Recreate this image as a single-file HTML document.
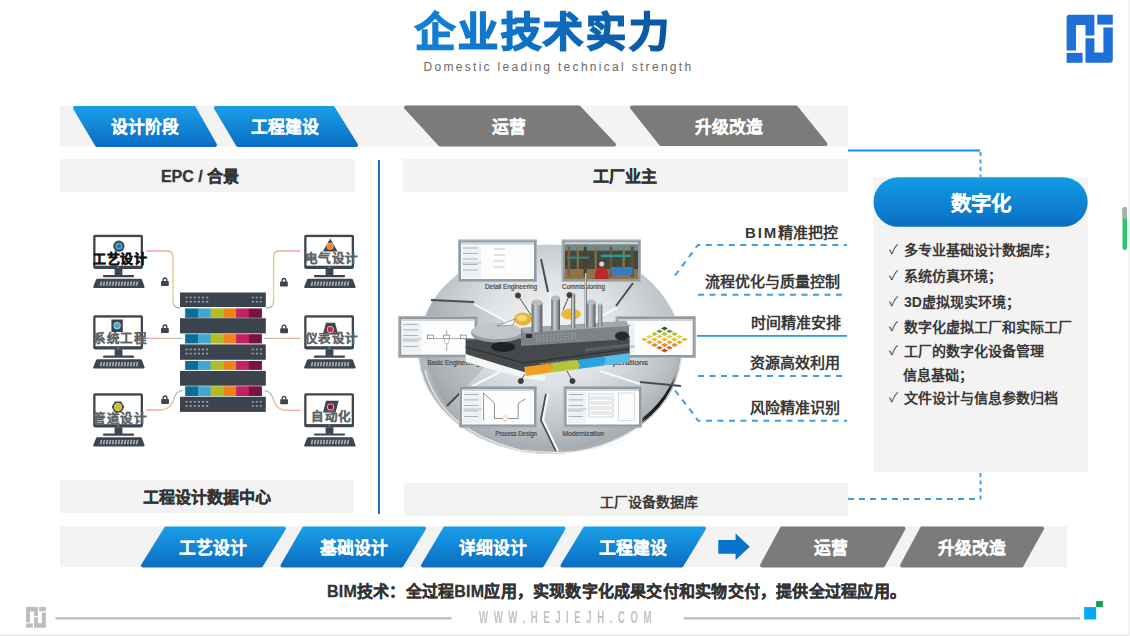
<!DOCTYPE html>
<html lang="zh-CN"><head><meta charset="utf-8">
<style>
html,body{margin:0;padding:0;}
body{text-spacing-trim:space-all;width:1130px;height:636px;overflow:hidden;background:#fff;position:relative;font-family:"Liberation Sans",sans-serif;}
.a{position:absolute;white-space:nowrap;}
.t{position:absolute;white-space:nowrap;text-align:center;}
svg{position:absolute;left:0;top:0;}
.title{left:342px;top:6px;width:400px;font-size:40px;line-height:52px;font-weight:900;letter-spacing:2.8px;text-indent:2.8px;
 background:linear-gradient(90deg,#178ce0 0%,#0f72c6 45%,#0b5aa8 75%,#0a4687 100%);-webkit-background-clip:text;background-clip:text;color:transparent;-webkit-text-stroke:1.8px transparent;}
.sub{left:423.5px;top:59px;font-size:12px;line-height:16px;color:#6a6a6a;letter-spacing:2.3px;text-align:left;}
.stg{font-size:16.8px;line-height:20px;font-weight:bold;color:#fff;-webkit-text-stroke:0.15px #fff;}
.hdr{font-size:16px;line-height:20px;font-weight:bold;color:#333;-webkit-text-stroke:0.3px #333;}
.lbl{font-size:15px;line-height:18px;font-weight:bold;color:#383838;text-align:right;}
.chk{font-size:14px;line-height:18px;font-weight:bold;color:#383838;}
.ck{font-weight:normal;font-size:13px;-webkit-text-stroke:0;color:#444;}
.pc{font-size:12.5px;line-height:14px;font-weight:bold;color:#626262;letter-spacing:0.5px;-webkit-text-stroke:0.15px currentColor;}
</style></head><body>
<svg width="1130" height="636" viewBox="0 0 1130 636">
<defs>
 <linearGradient id="gb" x1="0" y1="0" x2="0" y2="1">
  <stop offset="0" stop-color="#1a9de6"/><stop offset="1" stop-color="#0a6fc4"/>
 </linearGradient>
 <linearGradient id="gp" x1="0" y1="0" x2="0" y2="1">
  <stop offset="0" stop-color="#129ce6"/><stop offset="1" stop-color="#0a6ec3"/>
 </linearGradient>
<linearGradient id="cbl1" gradientUnits="userSpaceOnUse" x1="146" y1="251" x2="182" y2="308"><stop offset="0" stop-color="#f0a0a8"/><stop offset="0.45" stop-color="#f3c27a"/><stop offset="0.8" stop-color="#d9d58a"/><stop offset="1" stop-color="#7ab8e0"/></linearGradient>
<linearGradient id="cbl2" gradientUnits="userSpaceOnUse" x1="146" y1="0" x2="182" y2="0"><stop offset="0" stop-color="#f09aa8"/><stop offset="0.6" stop-color="#f3c08a"/><stop offset="1" stop-color="#8ec3e6"/></linearGradient>
<linearGradient id="cbl3" gradientUnits="userSpaceOnUse" x1="146" y1="410" x2="182" y2="390"><stop offset="0" stop-color="#f09aa8"/><stop offset="0.5" stop-color="#f1c470"/><stop offset="1" stop-color="#8ec3e6"/></linearGradient>
<linearGradient id="cbr1" gradientUnits="userSpaceOnUse" x1="300" y1="251" x2="265" y2="308"><stop offset="0" stop-color="#f0a0a8"/><stop offset="0.45" stop-color="#f3c27a"/><stop offset="0.8" stop-color="#d9d58a"/><stop offset="1" stop-color="#7ab8e0"/></linearGradient>
<linearGradient id="cbr2" gradientUnits="userSpaceOnUse" x1="300" y1="0" x2="264" y2="0"><stop offset="0" stop-color="#f09aa8"/><stop offset="0.6" stop-color="#f3c08a"/><stop offset="1" stop-color="#8ec3e6"/></linearGradient>
<linearGradient id="cbr3" gradientUnits="userSpaceOnUse" x1="300" y1="410" x2="264" y2="390"><stop offset="0" stop-color="#f09aa8"/><stop offset="0.5" stop-color="#f1c470"/><stop offset="1" stop-color="#8ec3e6"/></linearGradient>
<radialGradient id="rimdark" gradientUnits="userSpaceOnUse" cx="662" cy="405" r="38"><stop offset="0" stop-color="#111"/><stop offset="0.55" stop-color="#2a2c2e"/><stop offset="1" stop-color="#a9aeb2" stop-opacity="0"/></radialGradient>
<clipPath id="rimclip"><ellipse cx="551" cy="350.5" rx="132" ry="103.5"/></clipPath>
<radialGradient id="dk" cx="550" cy="330" r="150" gradientUnits="userSpaceOnUse" gradientTransform="translate(550,330) scale(1,0.8) translate(-550,-330)">
<stop offset="0" stop-color="#f4f5f6"/><stop offset="0.45" stop-color="#dfe2e4"/><stop offset="0.8" stop-color="#bfc4c8"/><stop offset="1" stop-color="#a4aaaf"/></radialGradient>
<linearGradient id="rim" gradientUnits="userSpaceOnUse" x1="500" y1="260" x2="640" y2="470"><stop offset="0" stop-color="#d8dcdf"/><stop offset="0.55" stop-color="#b0b5b9"/><stop offset="0.78" stop-color="#2a2c2e"/><stop offset="1" stop-color="#707579"/></linearGradient>
<linearGradient id="cyl" x1="0" y1="0" x2="1" y2="0"><stop offset="0" stop-color="#5d6266"/><stop offset="0.35" stop-color="#c9cdd1"/><stop offset="0.6" stop-color="#a6abb0"/><stop offset="1" stop-color="#55595d"/></linearGradient>
<linearGradient id="plat" x1="0" y1="0" x2="0" y2="1"><stop offset="0" stop-color="#8d9195"/><stop offset="1" stop-color="#6d7175"/></linearGradient>
<linearGradient id="scene" x1="0" y1="0" x2="0" y2="1"><stop offset="0" stop-color="#5a4a3a"/><stop offset="0.5" stop-color="#2c5a5e"/><stop offset="1" stop-color="#8a7040"/></linearGradient>
</defs>
<!-- top band -->
<rect x="60" y="105.5" width="788" height="41" fill="#f3f3f3"/>
<g stroke-linejoin="round" stroke-width="4">
 <path d="M75,108 L194,108 L215,145 L97,145 Z" fill="url(#gb)" stroke="url(#gb)"/>
 <path d="M216,108 L333,108 L356,145 L238,145 Z" fill="url(#gb)" stroke="url(#gb)"/>
 <path d="M406,107.5 L579,107.5 L614,144.5 L440,144.5 Z" fill="#7b7b7b" stroke="#7b7b7b"/>
 <path d="M632,107.5 L796,107.5 L825.5,144 L661,144 Z" fill="#7b7b7b" stroke="#7b7b7b"/>
</g>
<!-- header boxes -->
<rect x="60" y="159" width="295" height="33" fill="#f3f3f3"/>
<rect x="403" y="159" width="445" height="33" fill="#f3f3f3"/>
<rect x="60" y="480" width="294" height="33" fill="#f3f3f3"/>
<rect x="404" y="483" width="444" height="33" fill="#f3f3f3"/>
<!-- vertical line -->
<rect x="378" y="160" width="2" height="354" fill="#1f76bd"/>
<!-- connectors to panel -->
<rect x="848" y="149.5" width="132" height="2" fill="#1a8ad8"/>
<line x1="980.5" y1="152" x2="980.5" y2="177" stroke="#4aa2e2" stroke-width="2" stroke-dasharray="4 3.5"/>
<line x1="980.5" y1="473" x2="980.5" y2="499" stroke="#4aa2e2" stroke-width="2" stroke-dasharray="4 3.5"/>
<line x1="848" y1="499" x2="981" y2="499" stroke="#3a9de0" stroke-width="2" stroke-dasharray="6 5"/>
<!-- panel -->
<rect x="873.5" y="177.5" width="214.2" height="294.7" fill="#f3f3f3"/>
<rect x="873.5" y="177.3" width="214.2" height="49.5" rx="24.75" fill="url(#gp)"/>
<!-- middle lines -->
<g stroke="#3aa0e0" stroke-width="2" fill="none" stroke-dasharray="6 5.5">
 <path d="M675,275.5 L698,245 L847,245"/>
 <path d="M698,294.8 L847,294.8"/>
 <path d="M698,376 L847,376"/>
 <path d="M675,390.5 L695,416 L698,420.8 L847,420.8"/>
</g>
<rect x="697" y="335" width="150" height="1.8" fill="#22a0e2"/>
<!-- bottom band -->
<rect x="60" y="526" width="1007" height="41" fill="#f3f3f3"/>
<g stroke-linejoin="round" stroke-width="4">
 <path d="M166,528.5 L284,528.5 L261,565.5 L143,565.5 Z" fill="url(#gb)" stroke="url(#gb)"/>
 <path d="M304,528.5 L424,528.5 L401.5,565.5 L282.5,565.5 Z" fill="url(#gb)" stroke="url(#gb)"/>
 <path d="M445,528.5 L563.5,528.5 L542,565.5 L423,565.5 Z" fill="url(#gb)" stroke="url(#gb)"/>
 <path d="M585,528.5 L704,528.5 L681.5,565.5 L562.5,565.5 Z" fill="url(#gb)" stroke="url(#gb)"/>
 <path d="M782,528.5 L903.5,528.5 L883,565.5 L762,565.5 Z" fill="#7b7b7b" stroke="#7b7b7b"/>
 <path d="M922,528.5 L1042,528.5 L1021.5,565.5 L902,565.5 Z" fill="#7b7b7b" stroke="#7b7b7b"/>
</g>
<path d="M718.3,540 L735.6,540 L735.6,533.4 L749.8,546.7 L735.6,560 L735.6,553.7 L718.3,553.7 Z" fill="#0a72c8"/>
<g transform="translate(93.2,234.8)">
<rect x="0" y="0" width="49.8" height="34.1" rx="1.8" fill="#3d4650"/>
<rect x="2.3" y="2.3" width="45.2" height="28.6" fill="#fff"/>
<circle cx="24.9" cy="32.6" r="0.6" fill="#cfd3d6"/>
<rect x="21.4" y="34" width="7.8" height="6.6" fill="#3d4650"/>
<rect x="9.8" y="40.2" width="31" height="2.2" rx="0.8" fill="#3d4650"/>
<path d="M4.3,44 L47.3,44 Q48.4,44 48.8,45 L51.4,52 Q51.6,53.3 50.3,53.3 L1,53.3 Q-0.3,53.3 0,52 L2.8,45 Q3.2,44 4.3,44 Z" fill="#3d4650"/>
<path d="M7.4,46.6 L9.1,46.6 L8.2,51 L6.5,51 Z" fill="#aab1b7"/>
<path d="M10.4,46.6 L12.1,46.6 L11.2,51 L9.5,51 Z" fill="#aab1b7"/>
<path d="M13.4,46.6 L15.1,46.6 L14.2,51 L12.5,51 Z" fill="#aab1b7"/>
<path d="M16.4,46.6 L18.1,46.6 L17.2,51 L15.5,51 Z" fill="#aab1b7"/>
<path d="M19.4,46.6 L21.1,46.6 L20.2,51 L18.5,51 Z" fill="#aab1b7"/>
<path d="M22.4,46.6 L24.1,46.6 L23.2,51 L21.5,51 Z" fill="#aab1b7"/>
<path d="M25.4,46.6 L27.1,46.6 L26.2,51 L24.5,51 Z" fill="#aab1b7"/>
<path d="M28.4,46.6 L30.1,46.6 L29.2,51 L27.5,51 Z" fill="#aab1b7"/>
<path d="M31.4,46.6 L33.1,46.6 L32.2,51 L30.5,51 Z" fill="#aab1b7"/>
<path d="M34.4,46.6 L36.1,46.6 L35.2,51 L33.5,51 Z" fill="#aab1b7"/>
<path d="M37.4,46.6 L39.1,46.6 L38.2,51 L36.5,51 Z" fill="#aab1b7"/>
<path d="M40.4,46.6 L42.1,46.6 L41.2,51 L39.5,51 Z" fill="#aab1b7"/>
<path d="M43.4,46.6 L45.1,46.6 L44.2,51 L42.5,51 Z" fill="#aab1b7"/>
</g>
<g transform="translate(93.2,315.3)">
<rect x="0" y="0" width="49.8" height="34.1" rx="1.8" fill="#3d4650"/>
<rect x="2.3" y="2.3" width="45.2" height="28.6" fill="#fff"/>
<circle cx="24.9" cy="32.6" r="0.6" fill="#cfd3d6"/>
<rect x="21.4" y="34" width="7.8" height="6.6" fill="#3d4650"/>
<rect x="9.8" y="40.2" width="31" height="2.2" rx="0.8" fill="#3d4650"/>
<path d="M4.3,44 L47.3,44 Q48.4,44 48.8,45 L51.4,52 Q51.6,53.3 50.3,53.3 L1,53.3 Q-0.3,53.3 0,52 L2.8,45 Q3.2,44 4.3,44 Z" fill="#3d4650"/>
<path d="M7.4,46.6 L9.1,46.6 L8.2,51 L6.5,51 Z" fill="#aab1b7"/>
<path d="M10.4,46.6 L12.1,46.6 L11.2,51 L9.5,51 Z" fill="#aab1b7"/>
<path d="M13.4,46.6 L15.1,46.6 L14.2,51 L12.5,51 Z" fill="#aab1b7"/>
<path d="M16.4,46.6 L18.1,46.6 L17.2,51 L15.5,51 Z" fill="#aab1b7"/>
<path d="M19.4,46.6 L21.1,46.6 L20.2,51 L18.5,51 Z" fill="#aab1b7"/>
<path d="M22.4,46.6 L24.1,46.6 L23.2,51 L21.5,51 Z" fill="#aab1b7"/>
<path d="M25.4,46.6 L27.1,46.6 L26.2,51 L24.5,51 Z" fill="#aab1b7"/>
<path d="M28.4,46.6 L30.1,46.6 L29.2,51 L27.5,51 Z" fill="#aab1b7"/>
<path d="M31.4,46.6 L33.1,46.6 L32.2,51 L30.5,51 Z" fill="#aab1b7"/>
<path d="M34.4,46.6 L36.1,46.6 L35.2,51 L33.5,51 Z" fill="#aab1b7"/>
<path d="M37.4,46.6 L39.1,46.6 L38.2,51 L36.5,51 Z" fill="#aab1b7"/>
<path d="M40.4,46.6 L42.1,46.6 L41.2,51 L39.5,51 Z" fill="#aab1b7"/>
<path d="M43.4,46.6 L45.1,46.6 L44.2,51 L42.5,51 Z" fill="#aab1b7"/>
</g>
<g transform="translate(93.2,393.3)">
<rect x="0" y="0" width="49.8" height="34.1" rx="1.8" fill="#3d4650"/>
<rect x="2.3" y="2.3" width="45.2" height="28.6" fill="#fff"/>
<circle cx="24.9" cy="32.6" r="0.6" fill="#cfd3d6"/>
<rect x="21.4" y="34" width="7.8" height="6.6" fill="#3d4650"/>
<rect x="9.8" y="40.2" width="31" height="2.2" rx="0.8" fill="#3d4650"/>
<path d="M4.3,44 L47.3,44 Q48.4,44 48.8,45 L51.4,52 Q51.6,53.3 50.3,53.3 L1,53.3 Q-0.3,53.3 0,52 L2.8,45 Q3.2,44 4.3,44 Z" fill="#3d4650"/>
<path d="M7.4,46.6 L9.1,46.6 L8.2,51 L6.5,51 Z" fill="#aab1b7"/>
<path d="M10.4,46.6 L12.1,46.6 L11.2,51 L9.5,51 Z" fill="#aab1b7"/>
<path d="M13.4,46.6 L15.1,46.6 L14.2,51 L12.5,51 Z" fill="#aab1b7"/>
<path d="M16.4,46.6 L18.1,46.6 L17.2,51 L15.5,51 Z" fill="#aab1b7"/>
<path d="M19.4,46.6 L21.1,46.6 L20.2,51 L18.5,51 Z" fill="#aab1b7"/>
<path d="M22.4,46.6 L24.1,46.6 L23.2,51 L21.5,51 Z" fill="#aab1b7"/>
<path d="M25.4,46.6 L27.1,46.6 L26.2,51 L24.5,51 Z" fill="#aab1b7"/>
<path d="M28.4,46.6 L30.1,46.6 L29.2,51 L27.5,51 Z" fill="#aab1b7"/>
<path d="M31.4,46.6 L33.1,46.6 L32.2,51 L30.5,51 Z" fill="#aab1b7"/>
<path d="M34.4,46.6 L36.1,46.6 L35.2,51 L33.5,51 Z" fill="#aab1b7"/>
<path d="M37.4,46.6 L39.1,46.6 L38.2,51 L36.5,51 Z" fill="#aab1b7"/>
<path d="M40.4,46.6 L42.1,46.6 L41.2,51 L39.5,51 Z" fill="#aab1b7"/>
<path d="M43.4,46.6 L45.1,46.6 L44.2,51 L42.5,51 Z" fill="#aab1b7"/>
</g>
<g transform="translate(304.2,234.8)">
<rect x="0" y="0" width="49.8" height="34.1" rx="1.8" fill="#3d4650"/>
<rect x="2.3" y="2.3" width="45.2" height="28.6" fill="#fff"/>
<circle cx="24.9" cy="32.6" r="0.6" fill="#cfd3d6"/>
<rect x="21.4" y="34" width="7.8" height="6.6" fill="#3d4650"/>
<rect x="9.8" y="40.2" width="31" height="2.2" rx="0.8" fill="#3d4650"/>
<path d="M4.3,44 L47.3,44 Q48.4,44 48.8,45 L51.4,52 Q51.6,53.3 50.3,53.3 L1,53.3 Q-0.3,53.3 0,52 L2.8,45 Q3.2,44 4.3,44 Z" fill="#3d4650"/>
<path d="M7.4,46.6 L9.1,46.6 L8.2,51 L6.5,51 Z" fill="#aab1b7"/>
<path d="M10.4,46.6 L12.1,46.6 L11.2,51 L9.5,51 Z" fill="#aab1b7"/>
<path d="M13.4,46.6 L15.1,46.6 L14.2,51 L12.5,51 Z" fill="#aab1b7"/>
<path d="M16.4,46.6 L18.1,46.6 L17.2,51 L15.5,51 Z" fill="#aab1b7"/>
<path d="M19.4,46.6 L21.1,46.6 L20.2,51 L18.5,51 Z" fill="#aab1b7"/>
<path d="M22.4,46.6 L24.1,46.6 L23.2,51 L21.5,51 Z" fill="#aab1b7"/>
<path d="M25.4,46.6 L27.1,46.6 L26.2,51 L24.5,51 Z" fill="#aab1b7"/>
<path d="M28.4,46.6 L30.1,46.6 L29.2,51 L27.5,51 Z" fill="#aab1b7"/>
<path d="M31.4,46.6 L33.1,46.6 L32.2,51 L30.5,51 Z" fill="#aab1b7"/>
<path d="M34.4,46.6 L36.1,46.6 L35.2,51 L33.5,51 Z" fill="#aab1b7"/>
<path d="M37.4,46.6 L39.1,46.6 L38.2,51 L36.5,51 Z" fill="#aab1b7"/>
<path d="M40.4,46.6 L42.1,46.6 L41.2,51 L39.5,51 Z" fill="#aab1b7"/>
<path d="M43.4,46.6 L45.1,46.6 L44.2,51 L42.5,51 Z" fill="#aab1b7"/>
</g>
<g transform="translate(304.2,315.3)">
<rect x="0" y="0" width="49.8" height="34.1" rx="1.8" fill="#3d4650"/>
<rect x="2.3" y="2.3" width="45.2" height="28.6" fill="#fff"/>
<circle cx="24.9" cy="32.6" r="0.6" fill="#cfd3d6"/>
<rect x="21.4" y="34" width="7.8" height="6.6" fill="#3d4650"/>
<rect x="9.8" y="40.2" width="31" height="2.2" rx="0.8" fill="#3d4650"/>
<path d="M4.3,44 L47.3,44 Q48.4,44 48.8,45 L51.4,52 Q51.6,53.3 50.3,53.3 L1,53.3 Q-0.3,53.3 0,52 L2.8,45 Q3.2,44 4.3,44 Z" fill="#3d4650"/>
<path d="M7.4,46.6 L9.1,46.6 L8.2,51 L6.5,51 Z" fill="#aab1b7"/>
<path d="M10.4,46.6 L12.1,46.6 L11.2,51 L9.5,51 Z" fill="#aab1b7"/>
<path d="M13.4,46.6 L15.1,46.6 L14.2,51 L12.5,51 Z" fill="#aab1b7"/>
<path d="M16.4,46.6 L18.1,46.6 L17.2,51 L15.5,51 Z" fill="#aab1b7"/>
<path d="M19.4,46.6 L21.1,46.6 L20.2,51 L18.5,51 Z" fill="#aab1b7"/>
<path d="M22.4,46.6 L24.1,46.6 L23.2,51 L21.5,51 Z" fill="#aab1b7"/>
<path d="M25.4,46.6 L27.1,46.6 L26.2,51 L24.5,51 Z" fill="#aab1b7"/>
<path d="M28.4,46.6 L30.1,46.6 L29.2,51 L27.5,51 Z" fill="#aab1b7"/>
<path d="M31.4,46.6 L33.1,46.6 L32.2,51 L30.5,51 Z" fill="#aab1b7"/>
<path d="M34.4,46.6 L36.1,46.6 L35.2,51 L33.5,51 Z" fill="#aab1b7"/>
<path d="M37.4,46.6 L39.1,46.6 L38.2,51 L36.5,51 Z" fill="#aab1b7"/>
<path d="M40.4,46.6 L42.1,46.6 L41.2,51 L39.5,51 Z" fill="#aab1b7"/>
<path d="M43.4,46.6 L45.1,46.6 L44.2,51 L42.5,51 Z" fill="#aab1b7"/>
</g>
<g transform="translate(304.2,393.2)">
<rect x="0" y="0" width="49.8" height="34.1" rx="1.8" fill="#3d4650"/>
<rect x="2.3" y="2.3" width="45.2" height="28.6" fill="#fff"/>
<circle cx="24.9" cy="32.6" r="0.6" fill="#cfd3d6"/>
<rect x="21.4" y="34" width="7.8" height="6.6" fill="#3d4650"/>
<rect x="9.8" y="40.2" width="31" height="2.2" rx="0.8" fill="#3d4650"/>
<path d="M4.3,44 L47.3,44 Q48.4,44 48.8,45 L51.4,52 Q51.6,53.3 50.3,53.3 L1,53.3 Q-0.3,53.3 0,52 L2.8,45 Q3.2,44 4.3,44 Z" fill="#3d4650"/>
<path d="M7.4,46.6 L9.1,46.6 L8.2,51 L6.5,51 Z" fill="#aab1b7"/>
<path d="M10.4,46.6 L12.1,46.6 L11.2,51 L9.5,51 Z" fill="#aab1b7"/>
<path d="M13.4,46.6 L15.1,46.6 L14.2,51 L12.5,51 Z" fill="#aab1b7"/>
<path d="M16.4,46.6 L18.1,46.6 L17.2,51 L15.5,51 Z" fill="#aab1b7"/>
<path d="M19.4,46.6 L21.1,46.6 L20.2,51 L18.5,51 Z" fill="#aab1b7"/>
<path d="M22.4,46.6 L24.1,46.6 L23.2,51 L21.5,51 Z" fill="#aab1b7"/>
<path d="M25.4,46.6 L27.1,46.6 L26.2,51 L24.5,51 Z" fill="#aab1b7"/>
<path d="M28.4,46.6 L30.1,46.6 L29.2,51 L27.5,51 Z" fill="#aab1b7"/>
<path d="M31.4,46.6 L33.1,46.6 L32.2,51 L30.5,51 Z" fill="#aab1b7"/>
<path d="M34.4,46.6 L36.1,46.6 L35.2,51 L33.5,51 Z" fill="#aab1b7"/>
<path d="M37.4,46.6 L39.1,46.6 L38.2,51 L36.5,51 Z" fill="#aab1b7"/>
<path d="M40.4,46.6 L42.1,46.6 L41.2,51 L39.5,51 Z" fill="#aab1b7"/>
<path d="M43.4,46.6 L45.1,46.6 L44.2,51 L42.5,51 Z" fill="#aab1b7"/>
</g>
<circle cx="118.9" cy="246.2" r="5.6" fill="#3d4650"/><circle cx="118.9" cy="246.2" r="3.6" fill="#3fa2d2"/><circle cx="118.9" cy="246.2" r="1.8" fill="#1d6f9a"/>
<rect x="111.4" y="319.5" width="11.4" height="12.5" fill="#3d4650"/><circle cx="117.1" cy="325.6" r="3.6" fill="#bfe3f3"/><circle cx="117.1" cy="325.6" r="2.8" fill="#48a9d6"/>
<polygon points="124.3,407.0 121.2,412.5 114.8,412.5 111.7,407.0 114.8,401.5 121.2,401.5" fill="#3d4650"/><circle cx="118" cy="407" r="3.9" fill="#e8e2a0"/><circle cx="118" cy="407" r="3.2" fill="#c9bf1e"/>
<path d="M330.2,238.4 L337.6,251.6 L322.8,251.6 Z" fill="#3d4650"/><circle cx="330" cy="246.2" r="3.4" fill="#f6c08a"/><circle cx="330" cy="246.2" r="2.7" fill="#ef8420"/>
<path d="M326,322.8 L335,322.8 L338.2,334.4 L322.8,334.4 Z" fill="#3d4650"/><circle cx="330.3" cy="329.4" r="3.5" fill="#f3c0cf"/><circle cx="330.3" cy="329.4" r="2.7" fill="#d41f52"/>
<path d="M326,400.8 L338.6,400.8 L335.6,412.6 L323,412.6 Z" fill="#3d4650"/><circle cx="330.6" cy="406.9" r="3.5" fill="#eec6d2"/><circle cx="330.6" cy="406.9" r="2.6" fill="#8b1141"/>
<rect x="184.5" y="307.7" width="77.6" height="10.9" fill="#dfe6ea"/>
<rect x="185.20" y="308.5" width="13.03" height="9.3" fill="#0f6b97"/>
<rect x="197.93" y="308.5" width="13.03" height="9.3" fill="#40a7d2"/>
<rect x="210.67" y="308.5" width="13.03" height="9.3" fill="#b3bd1f"/>
<rect x="223.40" y="308.5" width="13.03" height="9.3" fill="#f08315"/>
<rect x="236.13" y="308.5" width="13.03" height="9.3" fill="#c52060"/>
<rect x="248.87" y="308.5" width="13.03" height="9.3" fill="#7a1142"/>
<rect x="184.5" y="333.4" width="77.6" height="10.8" fill="#dfe6ea"/>
<rect x="185.20" y="334.2" width="13.03" height="9.2" fill="#0f6b97"/>
<rect x="197.93" y="334.2" width="13.03" height="9.2" fill="#40a7d2"/>
<rect x="210.67" y="334.2" width="13.03" height="9.2" fill="#b3bd1f"/>
<rect x="223.40" y="334.2" width="13.03" height="9.2" fill="#f08315"/>
<rect x="236.13" y="334.2" width="13.03" height="9.2" fill="#c52060"/>
<rect x="248.87" y="334.2" width="13.03" height="9.2" fill="#7a1142"/>
<rect x="184.5" y="360.2" width="77.6" height="10.5" fill="#dfe6ea"/>
<rect x="185.20" y="361" width="13.03" height="8.9" fill="#0f6b97"/>
<rect x="197.93" y="361" width="13.03" height="8.9" fill="#40a7d2"/>
<rect x="210.67" y="361" width="13.03" height="8.9" fill="#b3bd1f"/>
<rect x="223.40" y="361" width="13.03" height="8.9" fill="#f08315"/>
<rect x="236.13" y="361" width="13.03" height="8.9" fill="#c52060"/>
<rect x="248.87" y="361" width="13.03" height="8.9" fill="#7a1142"/>
<rect x="184.5" y="385.5" width="77.6" height="11.3" fill="#dfe6ea"/>
<rect x="185.20" y="386.3" width="13.03" height="9.7" fill="#0f6b97"/>
<rect x="197.93" y="386.3" width="13.03" height="9.7" fill="#40a7d2"/>
<rect x="210.67" y="386.3" width="13.03" height="9.7" fill="#b3bd1f"/>
<rect x="223.40" y="386.3" width="13.03" height="9.7" fill="#f08315"/>
<rect x="236.13" y="386.3" width="13.03" height="9.7" fill="#c52060"/>
<rect x="248.87" y="386.3" width="13.03" height="9.7" fill="#7a1142"/>
<rect x="180" y="292.5" width="85.8" height="14.5" fill="#3b444d"/>
<rect x="185.5" y="296.7" width="2.2" height="1.6" fill="#9aa2a9"/>
<rect x="189.6" y="296.7" width="2.2" height="1.6" fill="#9aa2a9"/>
<rect x="193.7" y="296.7" width="2.2" height="1.6" fill="#9aa2a9"/>
<rect x="197.8" y="296.7" width="2.2" height="1.6" fill="#9aa2a9"/>
<rect x="201.9" y="296.7" width="2.2" height="1.6" fill="#9aa2a9"/>
<rect x="206.0" y="296.7" width="2.2" height="1.6" fill="#9aa2a9"/>
<rect x="251.8" y="296.7" width="2" height="1.6" fill="#9aa2a9"/>
<rect x="255.8" y="296.7" width="2" height="1.6" fill="#9aa2a9"/>
<rect x="259.8" y="296.7" width="2" height="1.6" fill="#9aa2a9"/>
<rect x="185.5" y="300.9" width="2.2" height="1.6" fill="#9aa2a9"/>
<rect x="189.6" y="300.9" width="2.2" height="1.6" fill="#9aa2a9"/>
<rect x="193.7" y="300.9" width="2.2" height="1.6" fill="#9aa2a9"/>
<rect x="197.8" y="300.9" width="2.2" height="1.6" fill="#9aa2a9"/>
<rect x="201.9" y="300.9" width="2.2" height="1.6" fill="#9aa2a9"/>
<rect x="206.0" y="300.9" width="2.2" height="1.6" fill="#9aa2a9"/>
<rect x="251.8" y="300.9" width="2" height="1.6" fill="#9aa2a9"/>
<rect x="255.8" y="300.9" width="2" height="1.6" fill="#9aa2a9"/>
<rect x="259.8" y="300.9" width="2" height="1.6" fill="#9aa2a9"/>
<rect x="180" y="318.2" width="85.8" height="15.2" fill="#3b444d"/>
<rect x="180" y="344.4" width="85.8" height="15.4" fill="#3b444d"/>
<rect x="185.5" y="348.6" width="2.2" height="1.6" fill="#9aa2a9"/>
<rect x="189.6" y="348.6" width="2.2" height="1.6" fill="#9aa2a9"/>
<rect x="193.7" y="348.6" width="2.2" height="1.6" fill="#9aa2a9"/>
<rect x="197.8" y="348.6" width="2.2" height="1.6" fill="#9aa2a9"/>
<rect x="201.9" y="348.6" width="2.2" height="1.6" fill="#9aa2a9"/>
<rect x="206.0" y="348.6" width="2.2" height="1.6" fill="#9aa2a9"/>
<rect x="251.8" y="348.6" width="2" height="1.6" fill="#9aa2a9"/>
<rect x="255.8" y="348.6" width="2" height="1.6" fill="#9aa2a9"/>
<rect x="259.8" y="348.6" width="2" height="1.6" fill="#9aa2a9"/>
<rect x="185.5" y="352.8" width="2.2" height="1.6" fill="#9aa2a9"/>
<rect x="189.6" y="352.8" width="2.2" height="1.6" fill="#9aa2a9"/>
<rect x="193.7" y="352.8" width="2.2" height="1.6" fill="#9aa2a9"/>
<rect x="197.8" y="352.8" width="2.2" height="1.6" fill="#9aa2a9"/>
<rect x="201.9" y="352.8" width="2.2" height="1.6" fill="#9aa2a9"/>
<rect x="206.0" y="352.8" width="2.2" height="1.6" fill="#9aa2a9"/>
<rect x="251.8" y="352.8" width="2" height="1.6" fill="#9aa2a9"/>
<rect x="255.8" y="352.8" width="2" height="1.6" fill="#9aa2a9"/>
<rect x="259.8" y="352.8" width="2" height="1.6" fill="#9aa2a9"/>
<rect x="180" y="371" width="85.8" height="14.7" fill="#3b444d"/>
<rect x="180" y="396.8" width="85.8" height="15.1" fill="#3b444d"/>
<rect x="185.5" y="401.0" width="2.2" height="1.6" fill="#9aa2a9"/>
<rect x="189.6" y="401.0" width="2.2" height="1.6" fill="#9aa2a9"/>
<rect x="193.7" y="401.0" width="2.2" height="1.6" fill="#9aa2a9"/>
<rect x="197.8" y="401.0" width="2.2" height="1.6" fill="#9aa2a9"/>
<rect x="201.9" y="401.0" width="2.2" height="1.6" fill="#9aa2a9"/>
<rect x="206.0" y="401.0" width="2.2" height="1.6" fill="#9aa2a9"/>
<rect x="251.8" y="401.0" width="2" height="1.6" fill="#9aa2a9"/>
<rect x="255.8" y="401.0" width="2" height="1.6" fill="#9aa2a9"/>
<rect x="259.8" y="401.0" width="2" height="1.6" fill="#9aa2a9"/>
<rect x="185.5" y="405.2" width="2.2" height="1.6" fill="#9aa2a9"/>
<rect x="189.6" y="405.2" width="2.2" height="1.6" fill="#9aa2a9"/>
<rect x="193.7" y="405.2" width="2.2" height="1.6" fill="#9aa2a9"/>
<rect x="197.8" y="405.2" width="2.2" height="1.6" fill="#9aa2a9"/>
<rect x="201.9" y="405.2" width="2.2" height="1.6" fill="#9aa2a9"/>
<rect x="206.0" y="405.2" width="2.2" height="1.6" fill="#9aa2a9"/>
<rect x="251.8" y="405.2" width="2" height="1.6" fill="#9aa2a9"/>
<rect x="255.8" y="405.2" width="2" height="1.6" fill="#9aa2a9"/>
<rect x="259.8" y="405.2" width="2" height="1.6" fill="#9aa2a9"/>
<g fill="none" stroke-width="1.3">
<path d="M146.6,251 L167,251 Q173,251 173,257 L173,301 Q173,308 180,308" stroke="url(#cbl1)"/>
<path d="M146.6,338.4 L182,338.4" stroke="url(#cbl2)"/>
<path d="M146.4,410 L160,410 Q170,410 173,401 Q176,391 182,390.5" stroke="url(#cbl3)"/>
<path d="M300,251 L279.5,251 Q273.6,251 273.6,257 L273.6,301 Q273.6,308 266,308" stroke="url(#cbr1)"/>
<path d="M300,338.4 L264,338.4" stroke="url(#cbr2)"/>
<path d="M300,410.4 L287,410.4 Q277,410.4 274,401 Q271,391 264.5,390.5" stroke="url(#cbr3)"/>
</g>
<path d="M163,281.5 L163,280.4 Q163,278 164.9,278 Q166.8,278 166.8,280.4 L166.8,281.5" fill="none" stroke="#3d4650" stroke-width="1.3"/><rect x="161" y="281" width="7.8" height="5" rx="0.8" fill="#3d4650"/>
<path d="M163,328.5 L163,327.4 Q163,325 164.9,325 Q166.8,325 166.8,327.4 L166.8,328.5" fill="none" stroke="#3d4650" stroke-width="1.3"/><rect x="161" y="328" width="7.8" height="5" rx="0.8" fill="#3d4650"/>
<path d="M163.2,399.5 L163.2,398.4 Q163.2,396 165.1,396 Q167.0,396 167.0,398.4 L167.0,399.5" fill="none" stroke="#3d4650" stroke-width="1.3"/><rect x="161.2" y="399" width="7.8" height="5" rx="0.8" fill="#3d4650"/>
<path d="M282,282.0 L282,280.9 Q282,278.5 283.9,278.5 Q285.8,278.5 285.8,280.9 L285.8,282.0" fill="none" stroke="#3d4650" stroke-width="1.3"/><rect x="280" y="281.5" width="7.8" height="5" rx="0.8" fill="#3d4650"/>
<path d="M282.2,328.7 L282.2,327.59999999999997 Q282.2,325.2 284.09999999999997,325.2 Q286.0,325.2 286.0,327.59999999999997 L286.0,328.7" fill="none" stroke="#3d4650" stroke-width="1.3"/><rect x="280.2" y="328.2" width="7.8" height="5" rx="0.8" fill="#3d4650"/>
<path d="M282.2,399.8 L282.2,398.7 Q282.2,396.3 284.09999999999997,396.3 Q286.0,396.3 286.0,398.7 L286.0,399.8" fill="none" stroke="#3d4650" stroke-width="1.3"/><rect x="280.2" y="399.3" width="7.8" height="5" rx="0.8" fill="#3d4650"/>
<ellipse cx="550" cy="349.5" rx="132" ry="104.5" fill="#a9aeb2"/>
<ellipse cx="550" cy="349.5" rx="132" ry="104.5" fill="url(#rimdark)" clip-path="url(#rimclip)"/>
<ellipse cx="550" cy="349.5" rx="131.5" ry="104" fill="none" stroke="#e4e7e9" stroke-width="1"/>
<ellipse cx="549.5" cy="346.5" rx="130.5" ry="102" fill="url(#dk)"/>
<path d="M466,387 L447,406 Q430,385 424,350 Q422,330 432,300 L474,302 L520,330 Z" fill="#50565c" opacity="0.16"/>
<path d="M425,370 Q440,430 520,450 Q580,458 625,440" fill="none" stroke="#eef0f2" stroke-width="1.2" opacity="0.9"/>
<g stroke="#4a4e52" stroke-width="2" fill="none">
<path d="M431,300 L474,302"/>
<path d="M541,259 L548,292"/>
<path d="M633,283 L616,306"/>
<path d="M640,382 L681,386"/>
<path d="M447,406 L466,387"/>
<path d="M546,394 L541,420 L556,451"/>
</g>
<g stroke="#f6f7f8" stroke-width="2.2" fill="none">
<path d="M474,304 L522,330"/><path d="M550,292 L552,318"/><path d="M617,308 L590,322"/><path d="M640,384 L600,371"/><path d="M467,389 L500,372"/><path d="M548,394 L543,420 L558,451"/>
</g>
<rect x="458" y="239.6" width="79.0" height="42.4" fill="#939ba1"/>
<rect x="458.6" y="240.2" width="77.8" height="41.2" fill="none" stroke="#b5bcc1" stroke-width="0.8"/>
<rect x="461" y="242.6" width="73.0" height="36.4" fill="#fdfdfd"/>
<rect x="461" y="242.6" width="73.0" height="2" fill="#c9d6de"/>
<rect x="462" y="245.6" width="19.0" height="32.4" fill="#eef2f4"/>
<rect x="463" y="247.6" width="14.6" height="0.8" fill="#9aa4aa"/>
<rect x="463" y="253.1" width="14.6" height="0.8" fill="#9aa4aa"/>
<rect x="463" y="258.6" width="14.6" height="0.8" fill="#9aa4aa"/>
<rect x="463" y="264.1" width="14.6" height="0.8" fill="#9aa4aa"/>
<rect x="463" y="269.6" width="14.6" height="0.8" fill="#9aa4aa"/>
<rect x="462" y="262.6" width="19.0" height="1" fill="#a8c8d8"/>
<rect x="493.9" y="248.6" width="10.9" height="0.8" fill="#b0b8bc"/>
<rect x="493.9" y="254.6" width="10.9" height="0.8" fill="#b0b8bc"/>
<rect x="493.9" y="260.6" width="10.9" height="0.8" fill="#b0b8bc"/>
<rect x="493.9" y="266.6" width="10.9" height="0.8" fill="#b0b8bc"/>
<rect x="561.7" y="239.6" width="79.3" height="42.4" fill="#939ba1"/>
<rect x="562.3000000000001" y="240.2" width="78.1" height="41.2" fill="none" stroke="#b5bcc1" stroke-width="0.8"/>
<rect x="564.7" y="242.6" width="73.3" height="36.4" fill="#fdfdfd"/>
<rect x="564.7" y="242.6" width="73.3" height="2" fill="#c9d6de"/>
<rect x="564.7" y="244.6" width="73.3" height="34.4" fill="#3f4a3c"/>
<rect x="564.7" y="244.6" width="73.3" height="6" fill="#6f8a8c"/>
<rect x="564.7" y="269.0" width="73.3" height="10" fill="#8a7448"/>
<rect x="567.7" y="246.6" width="2.5" height="30.4" fill="#8a5a3a"/>
<rect x="576.7" y="246.6" width="2" height="30.4" fill="#a06a40"/>
<rect x="583.7" y="246.6" width="3" height="30.4" fill="#5a3a2a"/>
<rect x="594.7" y="246.6" width="2" height="30.4" fill="#9a6a40"/>
<rect x="609.7" y="246.6" width="2.5" height="30.4" fill="#7a5030"/>
<rect x="622.7" y="246.6" width="2" height="30.4" fill="#a07040"/>
<rect x="630.7" y="246.6" width="3" height="30.4" fill="#6a4a30"/>
<rect x="566.7" y="256.6" width="22" height="2" fill="#2a8a8a"/><rect x="600.7" y="254.6" width="30" height="2.5" fill="#2a9a9a"/>
<rect x="610.7" y="267.0" width="22" height="8" fill="#3a78c0"/>
<path d="M594.7,279.0 Q594.7,267.0 601.7,267.0 Q608.7,267.0 608.7,279.0 Z" fill="#b82828"/>
<circle cx="601.7" cy="264.0" r="2.5" fill="#d8d8d8"/>
<rect x="398.3" y="316" width="79.2" height="41.7" fill="#939ba1"/>
<rect x="398.90000000000003" y="316.6" width="78.0" height="40.5" fill="none" stroke="#b5bcc1" stroke-width="0.8"/>
<rect x="401.3" y="319" width="73.2" height="35.7" fill="#fdfdfd"/>
<rect x="401.3" y="319" width="73.2" height="2" fill="#c9d6de"/>
<rect x="402.3" y="322" width="19.0" height="31.7" fill="#eef2f4"/>
<rect x="403.3" y="324.0" width="14.6" height="0.8" fill="#9aa4aa"/>
<rect x="403.3" y="329.5" width="14.6" height="0.8" fill="#9aa4aa"/>
<rect x="403.3" y="335.0" width="14.6" height="0.8" fill="#9aa4aa"/>
<rect x="403.3" y="340.5" width="14.6" height="0.8" fill="#9aa4aa"/>
<rect x="403.3" y="346.0" width="14.6" height="0.8" fill="#9aa4aa"/>
<rect x="402.3" y="338.6" width="19.0" height="1" fill="#a8c8d8"/>
<path d="M426.9,338.6 H470.8 M446.7,329.7 V351.1" stroke="#777" stroke-width="0.6" fill="none"/>
<rect x="427.6" y="335.1" width="6" height="3.5" fill="#fff" stroke="#666" stroke-width="0.6"/>
<rect x="443.7" y="335.1" width="6" height="3.5" fill="#fff" stroke="#666" stroke-width="0.6"/>
<rect x="460.5" y="335.1" width="6" height="3.5" fill="#fff" stroke="#666" stroke-width="0.6"/>
<circle cx="446.7" cy="341.1" r="2.5" fill="#fff" stroke="#c88" stroke-width="0.6"/>
<rect x="615.7" y="316" width="80.0" height="42.0" fill="#939ba1"/>
<rect x="616.3000000000001" y="316.6" width="78.8" height="40.8" fill="none" stroke="#b5bcc1" stroke-width="0.8"/>
<rect x="618.7" y="319" width="74.0" height="36.0" fill="#fdfdfd"/>
<rect x="618.7" y="319" width="74.0" height="2" fill="#c9d6de"/>
<rect x="619.7" y="322" width="15" height="31.0" fill="#eef1f3"/>
<rect x="620.7" y="325" width="10" height="0.8" fill="#9aa4aa"/><rect x="620.7" y="329" width="8" height="0.8" fill="#9aa4aa"/><rect x="621.7" y="334" width="6" height="0.8" fill="#9aa4aa"/>
<rect x="619.7" y="345.0" width="15" height="3" fill="#c8d0d4"/>
<path d="M664.5,326.6 L667.9,328.5 L664.5,330.4 L661.1,328.5 Z" fill="#3d5a34"/>
<path d="M659.5,329.4 L662.9,331.2 L659.5,333.1 L656.1,331.2 Z" fill="#6d9a38"/>
<path d="M654.5,332.1 L657.9,334.0 L654.5,335.9 L651.1,334.0 Z" fill="#a8c838"/>
<path d="M649.5,334.9 L652.9,336.8 L649.5,338.6 L646.1,336.8 Z" fill="#e0d040"/>
<path d="M644.5,337.6 L647.9,339.5 L644.5,341.4 L641.1,339.5 Z" fill="#e8c030"/>
<path d="M669.5,329.4 L672.9,331.2 L669.5,333.1 L666.1,331.2 Z" fill="#6d9a38"/>
<path d="M664.5,332.1 L667.9,334.0 L664.5,335.9 L661.1,334.0 Z" fill="#a8c838"/>
<path d="M659.5,334.9 L662.9,336.8 L659.5,338.6 L656.1,336.8 Z" fill="#e0d040"/>
<path d="M654.5,337.6 L657.9,339.5 L654.5,341.4 L651.1,339.5 Z" fill="#e8c030"/>
<path d="M649.5,340.4 L652.9,342.2 L649.5,344.1 L646.1,342.2 Z" fill="#e6a828"/>
<path d="M674.5,332.1 L677.9,334.0 L674.5,335.9 L671.1,334.0 Z" fill="#a8c838"/>
<path d="M669.5,334.9 L672.9,336.8 L669.5,338.6 L666.1,336.8 Z" fill="#e0d040"/>
<path d="M664.5,337.6 L667.9,339.5 L664.5,341.4 L661.1,339.5 Z" fill="#e8c030"/>
<path d="M659.5,340.4 L662.9,342.2 L659.5,344.1 L656.1,342.2 Z" fill="#e6a828"/>
<path d="M654.5,343.1 L657.9,345.0 L654.5,346.9 L651.1,345.0 Z" fill="#e08a28"/>
<path d="M679.5,334.9 L682.9,336.8 L679.5,338.6 L676.1,336.8 Z" fill="#e0d040"/>
<path d="M674.5,337.6 L677.9,339.5 L674.5,341.4 L671.1,339.5 Z" fill="#e8c030"/>
<path d="M669.5,340.4 L672.9,342.2 L669.5,344.1 L666.1,342.2 Z" fill="#e6a828"/>
<path d="M664.5,343.1 L667.9,345.0 L664.5,346.9 L661.1,345.0 Z" fill="#e08a28"/>
<path d="M659.5,345.9 L662.9,347.8 L659.5,349.6 L656.1,347.8 Z" fill="#d86028"/>
<path d="M684.5,337.6 L687.9,339.5 L684.5,341.4 L681.1,339.5 Z" fill="#e8c030"/>
<path d="M679.5,340.4 L682.9,342.2 L679.5,344.1 L676.1,342.2 Z" fill="#e6a828"/>
<path d="M674.5,343.1 L677.9,345.0 L674.5,346.9 L671.1,345.0 Z" fill="#e08a28"/>
<path d="M669.5,345.9 L672.9,347.8 L669.5,349.6 L666.1,347.8 Z" fill="#d86028"/>
<path d="M664.5,348.6 L667.9,350.5 L664.5,352.4 L661.1,350.5 Z" fill="#cc4a22"/>
<rect x="459" y="386" width="78.0" height="41.5" fill="#939ba1"/>
<rect x="459.6" y="386.6" width="76.8" height="40.3" fill="none" stroke="#b5bcc1" stroke-width="0.8"/>
<rect x="462" y="389" width="72.0" height="35.5" fill="#fdfdfd"/>
<rect x="462" y="389" width="72.0" height="2" fill="#c9d6de"/>
<rect x="463" y="392" width="18.7" height="31.5" fill="#eef2f4"/>
<rect x="464" y="394.0" width="14.4" height="0.8" fill="#9aa4aa"/>
<rect x="464" y="399.5" width="14.4" height="0.8" fill="#9aa4aa"/>
<rect x="464" y="405.0" width="14.4" height="0.8" fill="#9aa4aa"/>
<rect x="464" y="410.5" width="14.4" height="0.8" fill="#9aa4aa"/>
<rect x="464" y="416.0" width="14.4" height="0.8" fill="#9aa4aa"/>
<rect x="463" y="408.5" width="18.7" height="1" fill="#a8c8d8"/>
<path d="M483.6,393 L494.4,403 V418.5 H518.2 V403 L525.4,399 M483.6,393 V420.5" stroke="#666" stroke-width="0.7" fill="none"/>
<path d="M505.2,415.5 l3,3 l-3,3 l-3,-3 Z" fill="#fff" stroke="#c77" stroke-width="0.6"/>
<rect x="563.6" y="386" width="78.4" height="41.5" fill="#939ba1"/>
<rect x="564.2" y="386.6" width="77.2" height="40.3" fill="none" stroke="#b5bcc1" stroke-width="0.8"/>
<rect x="566.6" y="389" width="72.4" height="35.5" fill="#fdfdfd"/>
<rect x="566.6" y="389" width="72.4" height="2" fill="#c9d6de"/>
<rect x="567.6" y="392" width="18.8" height="31.5" fill="#eef2f4"/>
<rect x="568.6" y="394.0" width="14.5" height="0.8" fill="#9aa4aa"/>
<rect x="568.6" y="399.5" width="14.5" height="0.8" fill="#9aa4aa"/>
<rect x="568.6" y="405.0" width="14.5" height="0.8" fill="#9aa4aa"/>
<rect x="568.6" y="410.5" width="14.5" height="0.8" fill="#9aa4aa"/>
<rect x="568.6" y="416.0" width="14.5" height="0.8" fill="#9aa4aa"/>
<rect x="567.6" y="408.5" width="18.8" height="1" fill="#a8c8d8"/>
<rect x="588.3" y="394.0" width="25.3" height="3" fill="none" stroke="#b8c0c4" stroke-width="0.6"/>
<rect x="588.3" y="399.0" width="25.3" height="3" fill="none" stroke="#b8c0c4" stroke-width="0.6"/>
<rect x="588.3" y="404.0" width="25.3" height="3" fill="none" stroke="#b8c0c4" stroke-width="0.6"/>
<rect x="588.3" y="409.0" width="25.3" height="3" fill="none" stroke="#b8c0c4" stroke-width="0.6"/>
<rect x="588.3" y="414.0" width="25.3" height="3" fill="none" stroke="#b8c0c4" stroke-width="0.6"/>
<rect x="618.7" y="393" width="15.9" height="27.5" fill="none" stroke="#c0c6ca" stroke-width="0.6"/>
<g font-family="Liberation Sans, sans-serif" font-size="6.3" fill="#404040" stroke="#404040" stroke-width="0.15">
<text x="485" y="289.2" textLength="52" lengthAdjust="spacingAndGlyphs">Detail Engineering</text>
<text x="562" y="289" textLength="43" lengthAdjust="spacingAndGlyphs">Commissioning</text>
<text x="427.5" y="365.2" textLength="52" lengthAdjust="spacingAndGlyphs">Basic Engineering</text>
<text x="606" y="365" textLength="42" lengthAdjust="spacingAndGlyphs">Operations</text>
<text x="495.3" y="435.7" textLength="41.5" lengthAdjust="spacingAndGlyphs">Process Design</text>
<text x="562.5" y="435.7" textLength="41.5" lengthAdjust="spacingAndGlyphs">Modernization</text>
</g>
<path d="M465.6,353 L524,371 L545,376 L545,381 L524,378 L465.6,362 Z" fill="#f6f6f6"/>
<path d="M465.6,339 L629.6,336 L629.6,357 L524,372 L465.6,354 Z" fill="#46494c"/>
<path d="M465.6,347 L524,363 L629.6,349" stroke="#2c2e30" stroke-width="1.2" fill="none"/>
<path d="M465.6,339.5 L629.6,336.5" stroke="#64686c" stroke-width="1.5"/>
<ellipse cx="497" cy="333" rx="26" ry="9.5" fill="#9a9ea2"/>
<ellipse cx="497" cy="331" rx="25" ry="8" fill="#c2c6ca"/>
<path d="M521,328 L626,321 L629,326 L629,339 L521,346 Z" fill="#7f8387"/>
<path d="M521,328 L626,321 L629,326 L524,333 Z" fill="#a4a8ac"/>
<path d="M585,350 L629,345" stroke="#5c6064" stroke-width="3"/>
<path d="M540,364 L575,360" stroke="#c8ccd0" stroke-width="0.8" stroke-dasharray="1.5 1"/>
<ellipse cx="503" cy="347" rx="12" ry="5" fill="#1f2123"/>
<ellipse cx="622" cy="336" rx="7" ry="4.5" fill="#25272a"/>
<rect x="526" y="334" width="6" height="4" fill="#2a2c2e"/>
<path d="M536,336.0 L578,333.0" stroke="#c0c4c8" stroke-width="0.6" stroke-dasharray="1.5 2"/>
<path d="M536,338.6 L578,335.6" stroke="#c0c4c8" stroke-width="0.6" stroke-dasharray="1.5 2"/>
<path d="M536,341.2 L578,338.2" stroke="#c0c4c8" stroke-width="0.6" stroke-dasharray="1.5 2"/>
<ellipse cx="523" cy="319" rx="9" ry="6.5" fill="#e4b530"/><ellipse cx="522" cy="318" rx="5" ry="3.2" fill="#f3d77a"/>
<ellipse cx="571" cy="314" rx="10" ry="5.5" fill="#e9bb3a"/>
<path d="M497,326 L515,319 L513,325 Z" fill="#fff" stroke="#666" stroke-width="0.6"/>
<rect x="531.6" y="302.6" width="10.8" height="29.4" fill="url(#cyl)"/>
<ellipse cx="537.0" cy="302.6" rx="5.4" ry="3.2" fill="#b8bcc0"/>
<rect x="551.3" y="298.1" width="8.7" height="31.9" fill="url(#cyl)"/>
<ellipse cx="555.6" cy="298.1" rx="4.4" ry="2.6" fill="#b8bcc0"/>
<rect x="571" y="293.8" width="4.2" height="34.2" fill="url(#cyl)"/>
<ellipse cx="573.1" cy="293.8" rx="2.1" ry="1.3" fill="#b8bcc0"/>
<rect x="584.7" y="273.6" width="2.3" height="54.4" fill="url(#cyl)"/>
<ellipse cx="585.9" cy="273.6" rx="1.1" ry="0.7" fill="#b8bcc0"/>
<rect x="586.6" y="302.1" width="8.9" height="24.9" fill="url(#cyl)"/>
<ellipse cx="591.0" cy="302.1" rx="4.4" ry="2.7" fill="#b8bcc0"/>
<rect x="598.4" y="304.5" width="3.9" height="21.5" fill="url(#cyl)"/>
<ellipse cx="600.3" cy="304.5" rx="1.9" ry="1.2" fill="#b8bcc0"/>
<path d="M524,367 L550,363.5 L553,368 L551,372.5 L526,376 Z" fill="#f0a020"/>
<path d="M550,363.5 L577,360 L580,364.5 L578,369 L551,372.5 L553,368 Z" fill="#b9c437"/>
<path d="M577,360 L603,356.5 L606,361 L604,365.5 L578,369 L580,364.5 Z" fill="#2aa3de"/>
<path d="M603,356.5 L630,353 L630,362 L604,365.5 L606,361 Z" fill="#55bde8"/>
<g stroke="#444" stroke-width="0.9" fill="#3a3d40">
<path d="M518,295.5 L531,315"/><circle cx="518" cy="295.5" r="2.6"/>
<path d="M569.5,295 L563,310"/><circle cx="569.5" cy="295" r="2.6"/>
<path d="M520.8,381 L524.7,374"/><circle cx="520.8" cy="381" r="2.6"/>
<path d="M572.5,381 L567,371"/><circle cx="572.5" cy="381" r="2.6"/>
</g>
<!-- footer -->
<rect x="55.5" y="617" width="396" height="2.6" fill="#c4c4c4"/>
<rect x="683.7" y="617" width="396.5" height="2.6" fill="#c4c4c4"/>
<rect x="1084.2" y="607.1" width="12" height="12.4" fill="#07aaef"/>
<rect x="1096.1" y="601.1" width="6.8" height="6" fill="#13a04e"/>
<rect x="0" y="634.5" width="1130" height="1.5" fill="#e6e6e6"/>
<rect x="1128.5" y="0" width="1.5" height="636" fill="#f0f0f0"/>
<!-- logos -->
<g transform="translate(1060,10)" fill="#1e6fd6">
 <path d="M6.6,7.7 Q6.6,4.7 9.6,4.7 L34.4,4.7 L34.4,25.5 L25.5,25.5 L25.5,15.1 L16,15.1 L16,40.6 L6.6,40.6 Z"/>
 <rect x="37.3" y="4.7" width="15.5" height="9.9"/>
 <rect x="6.6" y="42.9" width="16" height="9.9"/>
 <path d="M43.4,17.5 L52.8,17.5 L52.8,49.8 Q52.8,52.8 49.8,52.8 L25.5,52.8 L25.5,28.3 L34.4,28.3 L34.4,42.5 L43.4,42.5 Z"/>
</g>
<g transform="translate(26,607) scale(0.43) translate(-6.6,-4.7)" fill="#bdbdbd">
 <path d="M6.6,4.7 L34.4,4.7 L34.4,25.5 L25.5,25.5 L25.5,15.1 L16,15.1 L16,40.6 L6.6,40.6 Z"/>
 <rect x="37.3" y="4.7" width="15.5" height="9.9"/>
 <rect x="6.6" y="42.9" width="16" height="9.9"/>
 <path d="M43.4,17.5 L52.8,17.5 L52.8,52.8 L25.5,52.8 L25.5,28.3 L34.4,28.3 L34.4,42.5 L43.4,42.5 Z"/>
</g>
<!-- scrollbar -->
<rect x="1122.5" y="207" width="4.5" height="43" rx="2.2" fill="#2ec66a"/>
<rect x="1122.5" y="207" width="4.5" height="12" rx="2.2" fill="#a9b0ad"/>
</svg>

<div class="t pc" style="left:80px;top:251.5px;width:80px;color:#111;font-size:13px;-webkit-text-stroke:0.4px #111;">工艺设计</div>
<div class="t pc" style="left:80px;top:331.5px;width:80px;">系统工程</div>
<div class="t pc" style="left:80px;top:412px;width:80px;">管道设计</div>
<div class="t pc" style="left:291.5px;top:251.5px;width:80px;">电气设计</div>
<div class="t pc" style="left:291.5px;top:332px;width:80px;">仪表设计</div>
<div class="t pc" style="left:291.5px;top:410px;width:80px;">自动化</div>

<div class="t title">企业技术实力</div>
<div class="t sub">Domestic leading technical strength</div>

<div class="t stg" style="left:95px;top:117.5px;width:100px;">设计阶段</div>
<div class="t stg" style="left:235px;top:117.5px;width:100px;">工程建设</div>
<div class="t stg" style="left:459px;top:117.5px;width:100px;">运营</div>
<div class="t stg" style="left:679px;top:117.5px;width:100px;">升级改造</div>

<div class="t hdr" style="left:60px;top:166.5px;width:280px;">EPC / 合景</div>
<div class="t hdr" style="left:525px;top:167px;width:200px;">工厂业主</div>
<div class="t hdr" style="left:107px;top:488px;width:200px;">工程设计数据中心</div>
<div class="t hdr" style="left:549px;top:492px;width:200px;font-size:14px;-webkit-text-stroke:0;color:#3a3a3a;">工厂设备数据库</div>

<div class="t stg" style="left:930.5px;top:191.5px;width:100px;font-size:20.5px;line-height:24px;">数字化</div>

<div class="a chk ck" style="left:888.5px;top:241px;">✓</div>
<div class="a chk" style="left:904px;top:241px;">多专业基础设计数据库；</div>
<div class="a chk ck" style="left:888.5px;top:267px;">✓</div>
<div class="a chk" style="left:904px;top:267px;">系统仿真环境；</div>
<div class="a chk ck" style="left:888.5px;top:293px;">✓</div>
<div class="a chk" style="left:904px;top:293px;">3D虚拟现实环境；</div>
<div class="a chk ck" style="left:888.5px;top:318px;">✓</div>
<div class="a chk" style="left:904px;top:318px;">数字化虚拟工厂和实际工厂</div>
<div class="a chk ck" style="left:888.5px;top:342px;">✓</div>
<div class="a chk" style="left:904px;top:342px;">工厂的数字化设备管理</div>
<div class="a chk" style="left:903px;top:366px;">信息基础；</div>
<div class="a chk ck" style="left:888.5px;top:389px;">✓</div>
<div class="a chk" style="left:904px;top:389px;">文件设计与信息参数归档</div>

<div class="a lbl" style="right:292px;top:223.5px;"><span style="letter-spacing:1.8px">BIM</span>精准把控</div>
<div class="a lbl" style="right:290px;top:273px;">流程优化与质量控制</div>
<div class="a lbl" style="right:289px;top:314px;">时间精准安排</div>
<div class="a lbl" style="right:290px;top:354px;">资源高效利用</div>
<div class="a lbl" style="right:290px;top:399px;">风险精准识别</div>

<div class="t stg" style="left:163px;top:538.5px;width:100px;">工艺设计</div>
<div class="t stg" style="left:304px;top:538.5px;width:100px;">基础设计</div>
<div class="t stg" style="left:443px;top:538.5px;width:100px;">详细设计</div>
<div class="t stg" style="left:583px;top:538.5px;width:100px;">工程建设</div>
<div class="t stg" style="left:781px;top:538.5px;width:100px;">运营</div>
<div class="t stg" style="left:922px;top:538.5px;width:100px;">升级改造</div>

<div class="a hdr" style="left:327px;top:582px;font-size:16px;letter-spacing:0.22px;">BIM技术：全过程BIM应用，实现数字化成果交付和实物交付，提供全过程应用。</div>
<div class="a" style="left:478.5px;top:608.8px;font-size:16px;line-height:17px;font-weight:bold;color:#c2c2c2;letter-spacing:9.3px;transform:scaleX(0.6);transform-origin:left;">WWW.HEJIEJH.COM</div>

</body></html>
